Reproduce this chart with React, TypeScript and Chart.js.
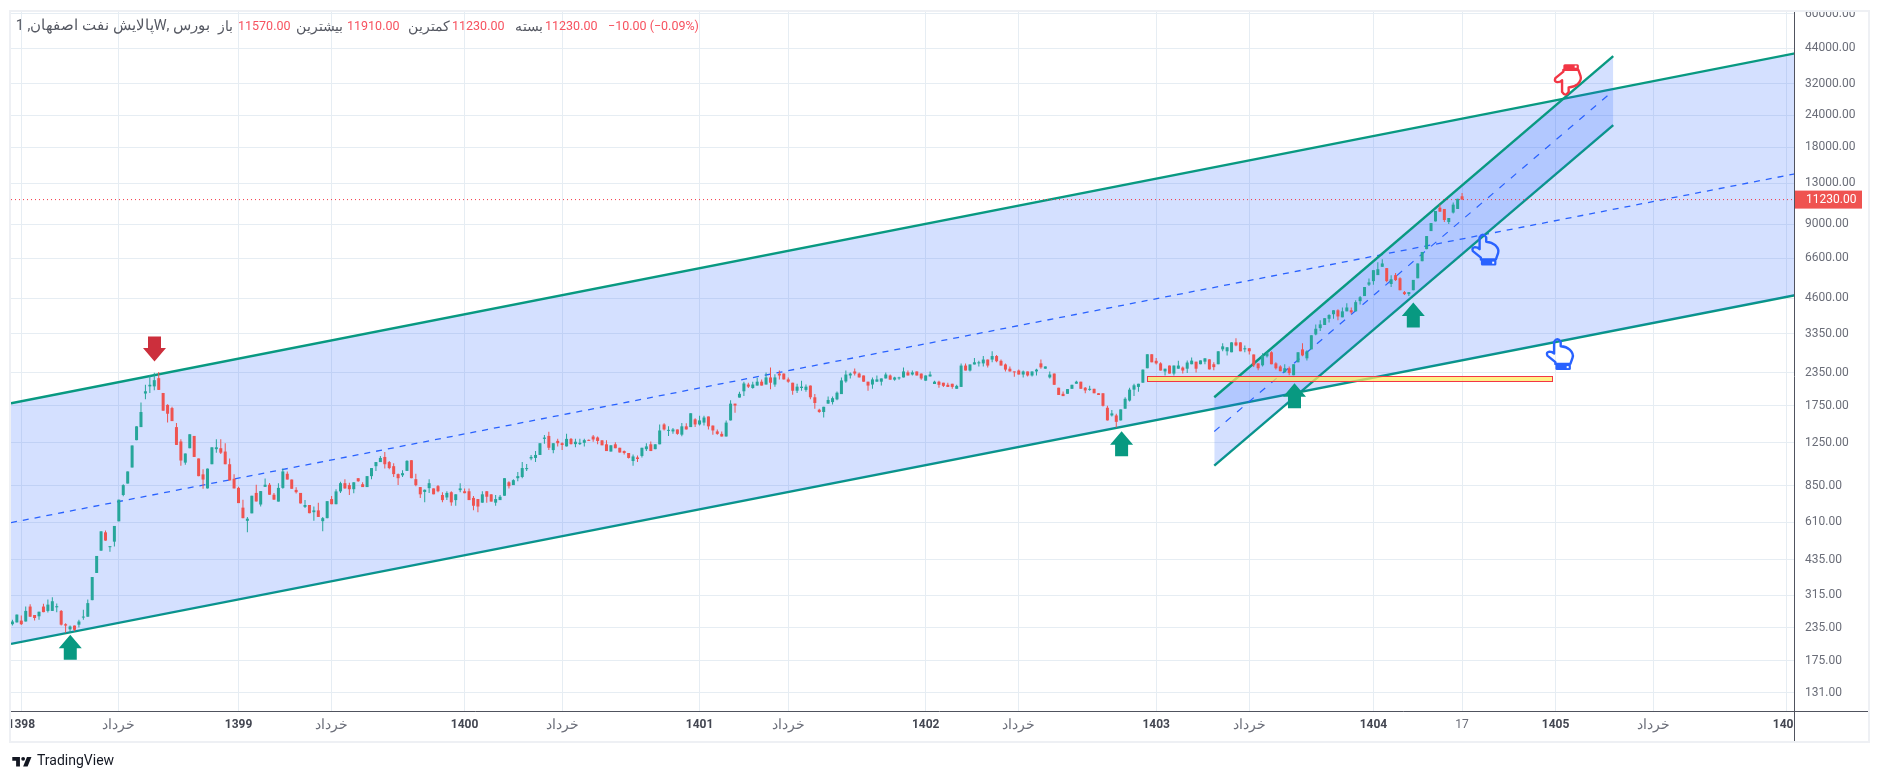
import React, { useEffect, useRef } from "react";
import { Chart, registerables } from "chart.js";

Chart.register(...registerables);

// Weekly candles as [open, high, low, close]; the first bar sits two weeks before the 1398 tick.
const firstBarIndex = -2;
const bars1398 = [
  [243,253,240,249],[247,265,247,265],[251,263,241,243],[249,285,249,274],[285,291,260,260],[264,264,251,257],[261,272,253,272],[285,292,271,271],[274,304,270,290],[274,310,274,299],
  [283,293,271,286],[274,276,240,242],[243,245,225,240],[232,240,225,238],[240,240,228,231],[242,253,236,249],[258,277,253,260],[260,304,260,294],[302,372,302,372],[386,450,386,450],
  [472,562,472,562],[557,566,516,517],[487,491,467,491],[512,590,490,590],[615,748,615,748],[780,860,772,853],[865,965,865,965],[1000,1220,1000,1220],[1280,1450,1280,1450],[1440,1800,1440,1650],
  [1950,2110,1850,1990],[2080,2300,1960,2110],[2080,2350,2010,2200],[2240,2367,2015,2015],[1960,1960,1670,1670],[1760,1770,1500,1625],[1710,1730,1520,1520],[1440,1495,1226,1226],[1265,1290,1017,1065],[1045,1135,1025,1135],
  [1190,1350,1190,1350],[1330,1330,1100,1100],[1085,1085,925,925],[940,985,825,897],[828,990,828,990],[1030,1200,1030,1200],[1180,1290,1143,1200],[1190,1290,1130,1143],[1155,1245,1030,1030],[1030,1085,890,890],
  [903,940,828,828],
];
const bars1399 = [
  [832,840,725,725],[696,748,633,633],[618,640,557,630],[661,775,661,775],[795,856,736,736],[716,808,704,808],[840,905,840,856],[856,870,782,782],[782,795,748,748],[735,868,735,832],
  [832,990,825,965],[945,965,897,897],[897,897,825,825],[817,837,790,800],[795,795,723,723],[701,745,693,713],[713,713,662,662],[668,704,618,679],[679,728,640,640],[616,640,562,633],
  [633,738,633,738],[752,773,718,718],[718,822,718,806],[806,880,795,868],[868,900,825,828],[853,872,780,822],[822,875,793,875],[908,908,880,883],[860,875,838,838],[838,925,838,925],
  [925,995,900,995],[1012,1050,970,1050],[1050,1110,1050,1090],[1100,1150,990,1030],[1050,1060,985,995],[1012,1040,918,942],[942,947,853,908],[932,975,918,950],[970,1068,970,1062],[1068,1068,908,908],
  [900,945,845,853],[838,838,760,785],[802,820,730,818],[830,900,795,868],[828,828,785,785],[845,853,800,807],[780,800,730,745],[763,807,745,795],[800,807,708,730],[745,785,708,785],
  [815,868,800,828],
];
const bars1400 = [
  [807,828,793,793],[807,828,745,745],[760,773,680,708],[752,752,668,703],[728,807,728,785],[807,807,728,768],[785,785,735,735],[728,780,708,752],[745,780,745,768],[775,908,775,908],
  [875,883,828,845],[853,900,853,892],[908,960,883,925],[918,1050,908,995],[985,1032,970,995],[1085,1120,1068,1100],[1090,1160,1050,1120],[1120,1245,1120,1245],[1295,1340,1240,1310],[1330,1380,1172,1195],
  [1170,1245,1138,1245],[1272,1295,1210,1245],[1245,1255,1170,1225],[1210,1355,1210,1295],[1295,1305,1230,1235],[1235,1295,1200,1262],[1235,1295,1225,1250],[1250,1295,1210,1280],[1280,1288,1272,1272],[1323,1340,1262,1288],
  [1311,1323,1233,1270],[1278,1278,1222,1222],[1233,1278,1160,1160],[1155,1222,1155,1222],[1233,1255,1190,1190],[1195,1195,1145,1145],[1160,1167,1125,1140],[1140,1140,1085,1090],[1060,1125,1015,1105],[1095,1115,1050,1080],
  [1110,1195,1095,1195],[1180,1245,1160,1210],[1233,1265,1160,1160],[1180,1233,1180,1233],[1233,1475,1233,1397],[1475,1490,1397,1410],[1392,1450,1330,1397],[1385,1430,1355,1410],[1410,1410,1345,1355],[1345,1495,1325,1450],
  [1450,1490,1410,1410],[1440,1632,1440,1632],[1545,1560,1440,1475],
];
const bars1401 = [
  [1475,1595,1460,1530],[1500,1595,1460,1570],[1585,1585,1410,1450],[1460,1460,1345,1397],[1385,1410,1345,1355],[1355,1385,1323,1323],[1323,1530,1323,1500],[1530,1835,1530,1780],[1780,1780,1640,1750],[1880,1980,1880,1945],
  [1990,2170,1905,2135],[2115,2150,2050,2075],[2050,2170,2035,2115],[2095,2250,2095,2170],[2170,2215,2095,2095],[2115,2355,2115,2255],[2255,2465,2025,2150],[2115,2320,2075,2255],[2335,2400,2215,2295],[2335,2335,2215,2215],
  [2215,2255,2150,2170],[2150,2150,1930,2000],[2000,2130,1960,2075],[2050,2190,2000,2075],[2015,2115,1980,2075],[2095,2095,1850,1885],[1885,1940,1700,1790],[1685,1700,1640,1650],[1650,1730,1570,1730],[1780,1900,1780,1840],
  [1805,1900,1765,1870],[1850,1985,1835,1965],[1940,2255,1940,2195],[2175,2400,2150,2315],[2295,2360,2235,2335],[2380,2445,2295,2335],[2335,2360,2255,2255],[2295,2295,2170,2170],[2170,2170,2000,2095],[2115,2255,2035,2215],
  [2170,2295,2170,2215],[2170,2235,2095,2235],[2235,2360,2235,2315],[2295,2315,2210,2210],[2210,2270,2190,2255],[2235,2270,2210,2255],[2255,2465,2255,2380],[2360,2400,2295,2295],[2315,2400,2295,2360],[2380,2380,2295,2295],
  [2335,2335,2210,2235],
];
const bars1402 = [
  [2190,2295,2190,2295],[2275,2380,2275,2315],[2125,2190,2125,2170],[2170,2190,2055,2110],[2150,2150,2070,2090],[2110,2150,2070,2070],[2130,2130,2035,2070],[2035,2110,2035,2090],[2070,2560,2070,2510],[2510,2560,2400,2400],
  [2400,2535,2380,2535],[2535,2690,2535,2585],[2560,2620,2490,2585],[2560,2735,2490,2650],[2650,2650,2465,2510],[2650,2855,2585,2735],[2735,2760,2585,2610],[2620,2650,2510,2510],[2535,2560,2380,2420],[2440,2490,2380,2380],
  [2380,2380,2270,2360],[2400,2420,2315,2315],[2315,2400,2255,2380],[2380,2380,2275,2295],[2295,2380,2275,2380],[2380,2440,2295,2420],[2560,2650,2440,2470],[2440,2490,2440,2490],[2255,2380,2235,2315],[2335,2335,2110,2110],
  [2055,2055,1925,1925],[1945,1985,1905,1905],[1945,2030,1945,2030],[2035,2110,2035,2110],[2130,2190,2130,2170],[2170,2170,2035,2035],[2055,2070,1955,2005],[2015,2090,2000,2035],[2035,2035,1955,1955],[1955,1955,1925,1925],
  [1955,1955,1735,1745],[1715,1745,1530,1530],[1600,1680,1585,1630],[1600,1625,1435,1510],[1530,1690,1530,1690],[1700,1885,1700,1860],[1830,2055,1815,2020],[2020,2130,1905,2100],[2070,2130,1980,2130],[2150,2420,2150,2420],
  [2450,2780,2450,2780],[2780,2780,2585,2585],
];
const bars1403 = [
  [2620,2690,2535,2560],[2560,2585,2400,2400],[2380,2440,2295,2440],[2510,2510,2335,2335],[2335,2510,2295,2510],[2440,2620,2440,2510],[2465,2490,2335,2400],[2440,2625,2345,2580],[2540,2700,2540,2625],[2600,2600,2355,2440],
  [2540,2630,2540,2630],[2600,2680,2540,2680],[2655,2655,2425,2425],[2540,2585,2405,2475],[2540,2855,2540,2855],[2905,3070,2855,2985],[2855,2960,2750,2960],[2830,3095,2830,3095],[3095,3215,2985,3010],[3095,3095,2855,2855],
  [2905,3010,2830,2935],[2935,2935,2775,2855],[2775,2775,2475,2515],[2560,2560,2405,2450],[2515,2805,2490,2750],[2730,2855,2700,2805],[2830,2855,2540,2540],[2560,2585,2425,2450],[2490,2515,2385,2385],[2365,2540,2345,2450],
  [2450,2490,2300,2345],[2300,2540,2300,2540],[2585,2830,2585,2830],[2905,3070,2730,2750],[2680,2880,2630,2855],[2905,3300,2905,3300],[3325,3640,3300,3500],[3520,3780,3430,3640],[3620,3850,3620,3850],[3830,3990,3700,3960],
  [3990,4135,3830,4135],[4135,4170,3780,3910],[3880,4240,3880,4095],[4095,4410,4095,4240],[4135,4240,4010,4060],[4095,4530,4095,4450],[4490,4700,4360,4650],[4700,5100,4700,5100],[5210,5510,5150,5320],
];
const bars1404 = [
  [5380,5940,5210,5940],[5680,6380,5680,5990],[6120,6550,6120,6310],[6050,6050,5320,5380],[5240,5670,5100,5470],[5680,5790,5380,5430],[5520,5570,4955,4955],[4870,4920,4745,4785],[4785,4870,4700,4870],[4955,5440,4955,5440],
  [5520,6310,5520,6310],[6440,7000,6440,7000],[7180,8080,7180,8080],[8450,9085,8450,9085],[9225,10130,9225,10130],[10440,10750,10070,10070],[10320,10320,9175,9340],[9175,9510,9000,9510],[9990,10950,9900,10730],[10320,11310,10320,11310],
  [11570,11910,11230,11230],
];

const priceTicks = [60000, 44000, 32000, 24000, 18000, 13000, 9000, 6600, 4600, 3350, 2350, 1750, 1250, 850, 610, 435, 315, 235, 175, 131];
const timeTickIndex = [0, 22, 49, 70, 100, 122, 153, 173, 204, 225, 256, 277, 305, 325, 346.1, 368.2, 398.2];
const timeTickLabels = ["1398", "خرداد", "1399", "خرداد", "1400", "خرداد", "1401", "خرداد", "1402", "خرداد", "1403", "خرداد", "1404", "17", "1405", "خرداد", "1406"];
const lastPrice = 11230;
const lastPriceLabel = "11230.00";

// Drawings, each anchored by bar index and price.
const bigChannelX = [-2.32, 400.1];
const bigChannelTop = [1785, 42060];
const bigChannelBottom = [203.4, 4739];
const bigChannelMid = [608, 14170];
const smallChannelX = [269.1, 359.1];
const smallChannelTop = [1885, 41040];
const smallChannelBottom = [1017, 21990];
const smallChannelMid = [1385, 29985];
const zoneX = [254, 345.2];
const zonePrice = [2287, 2186];
const upArrows = [[11.05, 221], [248.2, 1387], [287.2, 2139], [314, 4437]];
const downArrows = [[30.05, 2603]];
const upHands = [[329.7, 8220], [346.5, 3202]];
const downHands = [[348.3, 28830]];

const UP = "#26a69a";
const DOWN = "#ef5350";
const TEAL = "#089981";
const CHANNEL_FILL = "rgba(41,98,255,0.2)";
const DASH_BLUE = "#2962ff";
const GRID = "#e6edf3";
const AXIS = "#50535e";
const LABEL = "#6a6d78";
const FONT = "Roboto, sans-serif";

const FRAME = "#eef0f4";
const FRAME_LEFT = 11;
const FRAME_RIGHT = 1868;
const FRAME_TOP = 12;
const FRAME_BOTTOM = 741;

const handPath = (ctx: CanvasRenderingContext2D, x: number, y: number, dir: number, color: string) => {
  const py = (v: number) => y + dir * v;
  ctx.save();
  ctx.strokeStyle = color;
  ctx.lineWidth = 2.4;
  ctx.lineJoin = "round";
  ctx.beginPath();
  ctx.moveTo(x - 3.3, py(12.7));
  ctx.lineTo(x - 3.3, py(3.2));
  ctx.quadraticCurveTo(x, py(-2.2), x + 3.3, py(3.2));
  ctx.lineTo(x + 3.3, py(7.7));
  ctx.quadraticCurveTo(x + 9, py(8), x + 12.3, py(11));
  ctx.quadraticCurveTo(x + 16.5, py(15), x + 15.2, py(19));
  ctx.lineTo(x + 13, py(25.3));
  ctx.lineTo(x - 2, py(25.3));
  ctx.lineTo(x - 2, py(23.5));
  ctx.lineTo(x - 10, py(17));
  ctx.quadraticCurveTo(x - 11.5, py(13.5), x - 8, py(13));
  ctx.quadraticCurveTo(x - 5, py(13), x - 3.3, py(15));
  ctx.closePath();
  ctx.stroke();
  // cuff
  ctx.fillStyle = color;
  const cy0 = py(25.3);
  const cy1 = py(31);
  ctx.beginPath();
  ctx.roundRect(x - 2, Math.min(cy0, cy1), 15.5, 6, 1.5);
  ctx.fill();
  ctx.fillStyle = "#ffffff";
  ctx.fillRect(x + 9.3, py(28.5) - 1, 2, 2);
  ctx.restore();
};

const drawingsPlugin = {
  id: "drawings",
  afterDatasetsDraw(chart: any) {
    const { ctx, scales } = chart;
    const xs = scales.x;
    const ys = scales.y;
    ctx.save();
    const left = Math.round(xs.getPixelForValue(zoneX[0])) + 0.5;
    const right = Math.round(xs.getPixelForValue(zoneX[1])) + 0.5;
    const top = Math.round(ys.getPixelForValue(zonePrice[0])) + 0.5;
    const bottom = Math.round(ys.getPixelForValue(zonePrice[1])) + 0.5;
    ctx.fillStyle = "rgba(255,235,90,0.72)";
    ctx.fillRect(left, top, right - left, bottom - top);
    ctx.strokeStyle = "#f23645";
    ctx.lineWidth = 1;
    ctx.strokeRect(left, top, right - left, bottom - top);

    const arrow = (x: number, y: number, dir: number, color: string) => {
      ctx.fillStyle = color;
      ctx.beginPath();
      ctx.moveTo(x, y);
      ctx.lineTo(x + 11.5, y + dir * 13.5);
      ctx.lineTo(x + 6.5, y + dir * 13.5);
      ctx.lineTo(x + 6.5, y + dir * 25);
      ctx.lineTo(x - 6.5, y + dir * 25);
      ctx.lineTo(x - 6.5, y + dir * 13.5);
      ctx.lineTo(x - 11.5, y + dir * 13.5);
      ctx.closePath();
      ctx.fill();
    };
    upArrows.forEach(([i, p]) => arrow(xs.getPixelForValue(i), ys.getPixelForValue(p), 1, "#089981"));
    downArrows.forEach(([i, p]) => arrow(xs.getPixelForValue(i), ys.getPixelForValue(p), -1, "#cc2f3c"));
    upHands.forEach(([i, p]) => handPath(ctx, xs.getPixelForValue(i), ys.getPixelForValue(p), 1, "#2962ff"));
    downHands.forEach(([i, p]) => handPath(ctx, xs.getPixelForValue(i), ys.getPixelForValue(p), -1, "#f23645"));
    ctx.restore();
  },
  afterDraw(chart: any) {
    const { ctx, scales } = chart;
    const plot = chart.chartArea;
    ctx.save();
    // Cover what the panel clips: the labels that run past its edges.
    ctx.fillStyle = "#ffffff";
    ctx.fillRect(0, 0, chart.width, FRAME_TOP);
    ctx.fillRect(0, plot.bottom, FRAME_LEFT, FRAME_BOTTOM - plot.bottom);
    ctx.fillRect(plot.right, plot.bottom, FRAME_RIGHT - plot.right, FRAME_BOTTOM - plot.bottom);
    ctx.strokeStyle = FRAME;
    ctx.lineWidth = 2;
    ctx.strokeRect(FRAME_LEFT - 1, FRAME_TOP - 1, FRAME_RIGHT - FRAME_LEFT + 2, FRAME_BOTTOM - FRAME_TOP + 2);
    ctx.strokeStyle = AXIS;
    ctx.lineWidth = 1;
    ctx.beginPath();
    ctx.moveTo(FRAME_LEFT, Math.round(plot.bottom) - 0.5);
    ctx.lineTo(FRAME_RIGHT, Math.round(plot.bottom) - 0.5);
    ctx.moveTo(Math.round(plot.right) - 0.5, FRAME_TOP);
    ctx.lineTo(Math.round(plot.right) - 0.5, FRAME_BOTTOM);
    ctx.stroke();
    // Last-price tag on the price axis.
    const y = scales.y.getPixelForValue(lastPrice);
    ctx.fillStyle = "#ef5350";
    ctx.fillRect(plot.right, y - 9, 67, 18);
    ctx.fillStyle = "#ffffff";
    ctx.font = `12px ${FONT}`;
    ctx.textAlign = "left";
    ctx.textBaseline = "middle";
    ctx.fillText(lastPriceLabel, plot.right + 11, y + 0.5);
    ctx.restore();
  },
};

const legendStyle = (left: number, color: string, size = 12.5): React.CSSProperties => ({
  position: "absolute",
  left,
  top: 18,
  font: `${size}px/16px ${FONT}`,
  color,
  whiteSpace: "nowrap",
});

const GRAY = "#555862";
const RED = "#f7525f";
const isYear = (label: string) => /^\d{4}$/.test(label);

export default function App() {
  const ref = useRef<HTMLCanvasElement | null>(null);

  useEffect(() => {
    document.body.style.margin = "0";
    const rows = [...bars1398, ...bars1399, ...bars1400, ...bars1401, ...bars1402, ...bars1403, ...bars1404];
    const bodies = rows.map((r, i) => ({ x: i + firstBarIndex, y: [r[0], r[3]] }));
    const wicks = rows.map((r, i) => ({ x: i + firstBarIndex, y: [r[2], r[1]] }));
    const colors = rows.map((r) => (r[3] >= r[0] ? UP : DOWN));
    const line = (xs: number[], ps: number[]) => xs.map((x, i) => ({ x, y: ps[i] }));
    const chart = new Chart(ref.current as HTMLCanvasElement, {
      type: "bar",
      data: {
        datasets: [
          { type: "bar", data: bodies, backgroundColor: colors, barThickness: 3, grouped: false, minBarLength: 1, borderWidth: 0, inflateAmount: 0, order: 1 },
          { type: "bar", data: wicks, backgroundColor: colors, barThickness: 1, grouped: false, borderWidth: 0, inflateAmount: 0, order: 2 },
          { type: "line", data: line(bigChannelX, bigChannelTop), borderColor: TEAL, borderWidth: 2.4, pointRadius: 0, fill: "+1", backgroundColor: CHANNEL_FILL, order: 6 },
          { type: "line", data: line(bigChannelX, bigChannelBottom), borderColor: TEAL, borderWidth: 2.4, pointRadius: 0, fill: false, order: 6 },
          { type: "line", data: line(bigChannelX, bigChannelMid), borderColor: DASH_BLUE, borderWidth: 1.3, borderDash: [6, 6], pointRadius: 0, fill: false, order: 5 },
          { type: "line", data: line(smallChannelX, smallChannelTop), borderColor: TEAL, borderWidth: 2.4, pointRadius: 0, fill: "+1", backgroundColor: CHANNEL_FILL, order: 4 },
          { type: "line", data: line(smallChannelX, smallChannelBottom), borderColor: TEAL, borderWidth: 2.4, pointRadius: 0, fill: false, order: 4 },
          { type: "line", data: line(smallChannelX, smallChannelMid), borderColor: DASH_BLUE, borderWidth: 1.2, borderDash: [7, 8], pointRadius: 0, fill: false, order: 3 },
          { type: "line", data: line(bigChannelX, [lastPrice, lastPrice]), borderColor: "#f23645", borderWidth: 1, borderDash: [1, 3], pointRadius: 0, fill: false, order: 0 },
        ] as any,
      },
      options: {
        animation: false,
        responsive: false,
        devicePixelRatio: 1,
        layout: { padding: { left: FRAME_LEFT, right: 11, top: FRAME_TOP, bottom: 40 } },
        plugins: { legend: { display: false }, tooltip: { enabled: false } },
        scales: {
          x: {
            type: "linear",
            offset: false,
            min: bigChannelX[0],
            max: bigChannelX[1],
            grid: { color: GRID, drawTicks: false, offset: false },
            border: { display: false },
            afterBuildTicks: (s: any) => {
              s.ticks = timeTickIndex.map((value) => ({ value }));
            },
            afterFit: (s: any) => {
              s.height = 29;
              s.paddingLeft = 0;
              s.paddingRight = 0;
            },
            ticks: {
              autoSkip: false,
              maxRotation: 0,
              minRotation: 0,
              padding: 6,
              color: (c: any) => (isYear(timeTickLabels[c.index]) ? "#434651" : LABEL),
              font: (c: any) => {
                const label = timeTickLabels[c.index];
                return { family: FONT, size: label === "17" || isYear(label) ? 12 : 13.5, weight: isYear(label) ? "bold" : "normal" };
              },
              callback: (_v: any, i: number) => timeTickLabels[i],
            },
          },
          y: {
            type: "logarithmic",
            position: "right",
            min: 110,
            max: 61080,
            grid: { color: GRID, drawTicks: false },
            border: { display: false },
            afterBuildTicks: (s: any) => {
              s.ticks = priceTicks.map((value) => ({ value }));
            },
            afterFit: (s: any) => {
              s.width = 73;
              s.paddingTop = 0;
              s.paddingBottom = 0;
            },
            ticks: {
              autoSkip: false,
              padding: 10,
              color: LABEL,
              font: { family: FONT, size: 12 },
              callback: (v: any) => `${v}.00`,
            },
          },
        },
      } as any,
      plugins: [drawingsPlugin as any],
    });
    return () => chart.destroy();
  }, []);

  return (
    <div style={{ position: "fixed", left: 0, top: 0, width: 1879, height: 781, background: "#fff", overflow: "hidden" }}>
      <canvas ref={ref} width={1879} height={781} style={{ display: "block", width: 1879, height: 781 }} />
      <span dir="rtl" style={{ ...legendStyle(20, GRAY, 14.5), width: 190 }}>بورس ,Wپالایش نفت اصفهان, 1</span>
      <span style={legendStyle(218, GRAY, 14)}>باز</span>
      <span style={legendStyle(238, RED)}>11570.00</span>
      <span style={legendStyle(296, GRAY, 14)}>بیشترین</span>
      <span style={legendStyle(347, RED)}>11910.00</span>
      <span style={legendStyle(408, GRAY, 14)}>کمترین</span>
      <span style={legendStyle(452, RED)}>11230.00</span>
      <span style={legendStyle(515, GRAY, 14)}>بسته</span>
      <span style={legendStyle(545, RED)}>11230.00</span>
      <span style={legendStyle(608, RED)}>−10.00 (−0.09%)</span>
      <svg style={{ position: "absolute", left: 11, top: 753 }} width="23" height="18" viewBox="0 0 36 28">
        <path fill="#131722" d="M14 6H2v6h6v9h6V6Zm12 15h-7l6-15h7l-6 15Zm-7-9a3 3 0 1 0 0-6 3 3 0 0 0 0 6Z" />
      </svg>
      <span style={{ position: "absolute", left: 37, top: 752, font: `14px/17px ${FONT}`, color: "#131722" }}>TradingView</span>
    </div>
  );
}
